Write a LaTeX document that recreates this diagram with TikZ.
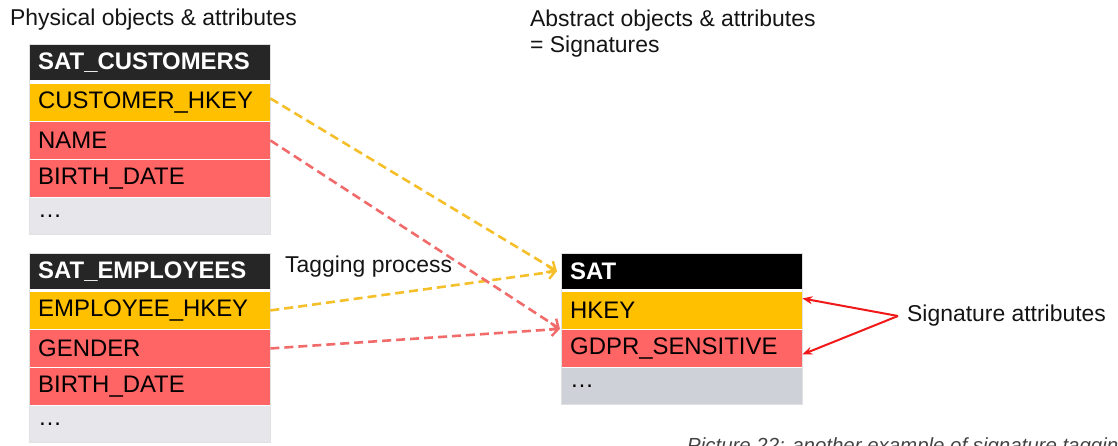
\documentclass[tikz,border=0pt]{standalone}
\usepackage{fontspec}
\setmainfont{Liberation Sans}
\usetikzlibrary{arrows.meta}
\definecolor{hdrdark}{HTML}{262626}
\definecolor{keyfill}{HTML}{FFC000}
\definecolor{gdprfill}{HTML}{FF6565}
\definecolor{restfill}{HTML}{E7E7EB}
\definecolor{satrest}{HTML}{CED1D7}
\definecolor{tagyellow}{HTML}{F5BF2A}
\definecolor{tagred}{HTML}{F16B6B}
\definecolor{sigred}{HTML}{F01818}
\definecolor{captiongray}{HTML}{444444}
\begin{document}
\begin{tikzpicture}[x=1bp,y=-1bp,
  row/.style={anchor=north west, text width=223bp, align=left,
    inner xsep=9bp, inner ysep=0pt, minimum height=36.5bp,
    font=\fontsize{24}{28}\selectfont, text=black},
  hdr/.style={row, minimum height=36bp, text=white,
    font=\fontsize{24}{28}\selectfont\bfseries},
  keyrow/.style={row, fill=keyfill},
  gdprrow/.style={row, fill=gdprfill},
  restrow/.style={row, fill=restfill},
  label/.style={anchor=base west, inner sep=0pt, text=black!92,
    font=\fontsize{23}{27}\selectfont},
  frame/.style={draw=black!12, line width=0.8bp},
  tagkey/.style={draw=tagyellow, line width=2.6bp, dash pattern=on 9bp off 5bp,
    -{Straight Barb[length=7bp,width=13bp,line width=2.4bp]}},
  taggdpr/.style={draw=tagred, line width=2.6bp, dash pattern=on 9bp off 5bp,
    -{Straight Barb[length=7bp,width=13bp,line width=2.4bp]}},
  sigarrow/.style={draw=sigred, line width=2bp,
    -{Stealth[length=10bp,width=8bp]}}
]
\useasboundingbox (0,0) rectangle (1118,446);
\clip (0,0) rectangle (1118,446);

% headings
\node[label] (phys) at (10,26) {Physical objects \& attributes};
\node[label] (abs1) at (530,27) {Abstract objects \& attributes};
\node[label] (abs2) at (530,53) {= Signatures};

% physical table: customers
\node[hdr, fill=hdrdark] (cust) at (29,44) {SAT\_CUSTOMERS};
\node[keyrow]  (custkey)   at (29,84)  {CUSTOMER\_HKEY};
\node[gdprrow] (custname)  at (29,122) {NAME};
\node[gdprrow] (custbirth) at (29,160) {BIRTH\_DATE};
\node[restrow] (custrest)  at (29,198) {\dots};
\draw[frame] (cust.north west) rectangle (custrest.south east);

% physical table: employees
\node[hdr, fill=hdrdark] (emp) at (29,253) {SAT\_EMPLOYEES};
\node[keyrow]  (empkey)    at (29,292) {EMPLOYEE\_HKEY};
\node[gdprrow] (empgender) at (29,330) {GENDER};
\node[gdprrow] (empbirth)  at (29,368) {BIRTH\_DATE};
\node[restrow] (emprest)   at (29,406) {\dots};
\draw[frame] (emp.north west) rectangle (emprest.south east);

% abstract signature table
\node[hdr, fill=black] (sat) at (561,253) {SAT};
\node[keyrow]  (satkey)  at (561,292) {HKEY};
\node[gdprrow] (satgdpr) at (561,330) {GDPR\_SENSITIVE};
\node[row, fill=satrest] (satrest) at (561,368) {\dots};
\draw[frame] (sat.north west) rectangle (satrest.south east);

% tagging connectors
\node[label] (tagging) at (285,273) {Tagging process};
\draw[tagkey]  ([yshift=4bp]custkey.east) -- ([xshift=-4bp]sat.west);
\draw[tagkey]  (empkey.east) -- ([xshift=-4bp]sat.west);
\draw[taggdpr] (custname.east) -- ([xshift=-1bp]satkey.south west);
\draw[taggdpr] (empgender.east) -- ([xshift=-1bp]satkey.south west);

% signature attributes callout
\node[label, anchor=west, inner xsep=9bp] (sig) at (898,316) {Signature attributes};
\draw[sigarrow] (sig.west) -- ([yshift=12bp]satkey.east);
\draw[sigarrow] (sig.west) -- ([yshift=-6bp]satgdpr.east);

% caption
\node[anchor=base west, inner sep=0pt, text=captiongray,
  font=\fontsize{20.5}{24}\selectfont\itshape] (caption) at (687,452)
  {Picture 22: another example of signature tagging};
\end{tikzpicture}
\end{document}
